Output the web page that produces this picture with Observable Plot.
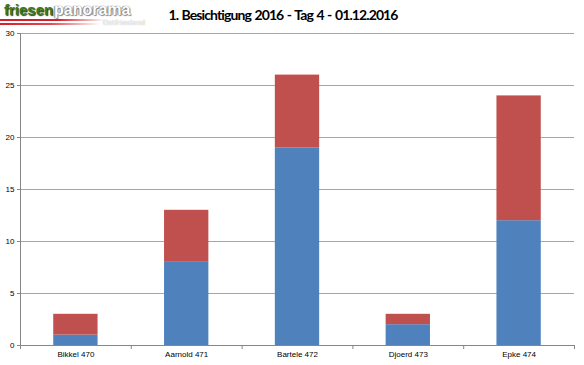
<!DOCTYPE html>
<html>
<head>
<meta charset="utf-8">
<script src="https://cdn.jsdelivr.net/npm/d3@7"></script>
<script src="https://cdn.jsdelivr.net/npm/@observablehq/plot@0.6"></script>
<style>
  html, body { margin: 0; padding: 0; background: #fff; }
  #wrap { position: relative; width: 584px; height: 365px; overflow: hidden; }
  #title { position: absolute; left: 0; width: 566px; top: 6px; text-align: center;
    font-family: Lato, "Liberation Sans", sans-serif; font-weight: bold; font-size: 14px; letter-spacing: -0.9px; word-spacing: 1px; color: #000; }
  #logo { position: absolute; left: 3px; top: 0px; width: 140px; height: 30px; }
  #logo .f { position: absolute; left: 1px; top: 1px; font-family: "Liberation Sans", sans-serif; font-weight: bold;
    font-size: 15px; color: #3b7a1c; text-shadow: 1px 1px 1px #2a3a20; }
  #logo .p { position: absolute; left: 51px; top: 1px; font-family: "Liberation Sans", sans-serif; font-weight: bold;
    font-size: 16px; color: #fff; text-shadow: 0 0 1px #666, 1px 1px 1px #888, -1px 0 1px #999; }
  #logo .s1 { position: absolute; left: -3px; top: 19px; width: 105px; height: 2px; background: linear-gradient(to right, #d81e28, #d81e28 55%, rgba(230,120,120,0)); }
  #logo .s2 { position: absolute; left: -3px; top: 23px; width: 100px; height: 2px; background: linear-gradient(to right, #d81e28, #e04a50 50%, rgba(230,150,150,0)); }
  #logo .o { position: absolute; left: 100px; top: 19px; font-family: "DejaVu Sans", sans-serif; font-size: 7px; color: #fff;
    text-shadow: 0 0 1px #888; }
</style>
</head>
<body>
<div id="wrap">
  <div id="chart"></div>
  <div id="logo"><div class="s1"></div><div class="s2"></div><span class="f">friesen</span><span class="p">panorama</span><span class="o">Ostfriesland</span></div>
  <div id="title">1. Besichtigung 2016 - Tag 4 - 01.12.2016</div>
</div>
<script>
const names = ["Bikkel 470", "Aarnold 471", "Bartele 472", "Djoerd 473", "Epke 474"];
const blueValues = [1, 8, 19, 2, 12];
const redValues = [2, 5, 7, 1, 12];
const yTicks = [0, 5, 10, 15, 20, 25, 30];

const rows = [];
names.forEach((n, i) => {
  rows.push({i, name: n, lo: 0, hi: blueValues[i], s: "Serie 1"});
  rows.push({i, name: n, lo: blueValues[i], hi: blueValues[i] + redValues[i], s: "Serie 2"});
});
const bounds = d3.range(names.length + 1);
const centers = names.map((n, i) => i + 0.5);

const chart = Plot.plot({
  width: 584,
  height: 365,
  marginLeft: 20,
  marginRight: 10,
  marginTop: 33,
  marginBottom: 20,
  style: {fontFamily: "'Liberation Sans', Arial, sans-serif", fontSize: "8px", color: "#000", background: "#fff"},
  x: {type: "linear", domain: [0, names.length]},
  y: {domain: [0, 30]},
  color: {type: "ordinal", domain: ["Serie 1", "Serie 2"], range: ["#4f81bd", "#c0504d"]},
  marks: [
    Plot.ruleY(yTicks.filter(d => d > 0), {stroke: "#a6a6a6", strokeWidth: 1}),
    Plot.rectY(rows, {x1: d => d.i + 0.3, x2: d => d.i + 0.7, y1: "lo", y2: "hi", fill: "s", inset: 0}),
    Plot.axisY({ticks: yTicks, tickSize: 3, tickPadding: 3, stroke: "#868686", tickFormat: d => d}),
    Plot.ruleX([0], {stroke: "#868686"}),
    Plot.axisX({ticks: bounds, tickSize: 4, stroke: "#868686", tickFormat: () => ""}),
    Plot.axisX({ticks: centers, tickSize: 0, tickPadding: 6, tickFormat: d => names[Math.round(d - 0.5)]}),
    Plot.ruleY([0], {stroke: "#868686"})
  ]
});
document.getElementById("chart").appendChild(chart);
</script>
</body>
</html>
